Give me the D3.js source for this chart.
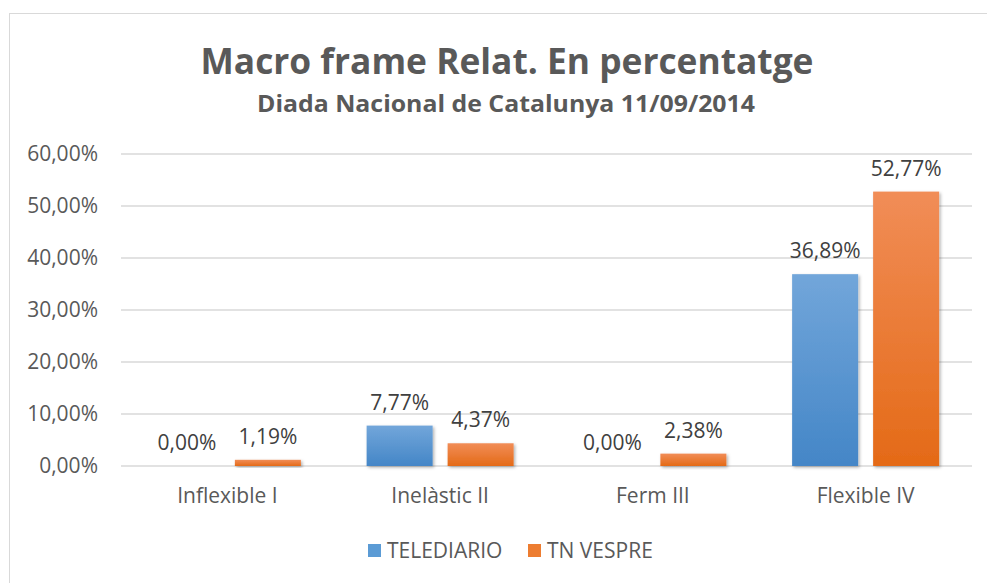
<!DOCTYPE html>
<html>
<head>
<meta charset="utf-8">
<script src="https://cdn.jsdelivr.net/npm/d3@7"></script>
<style>
  body { margin: 0; background: #fff; }
  text { font-family: "Open Sans", sans-serif; }
</style>
</head>
<body>
<div id="chart"></div>
<script>
// chart values
var categories = ["Inflexible I", "Inelàstic II", "Ferm III", "Flexible IV"];
var seriesNames = ["TELEDIARIO", "TN VESPRE"];
var telediario = [0.00, 7.77, 0.00, 36.89];
var tnVespre = [1.19, 4.37, 2.38, 52.77];
var yTicks = [0, 10, 20, 30, 40, 50, 60];

var W = 987, H = 583;
var margin = {left: 121, right: 15, top: 154, bottom: 117};
var font = "'Open Sans', sans-serif";
var fs = 21;

var svg = d3.select("#chart").append("svg")
    .attr("width", W).attr("height", H);

var defs = svg.append("defs");
function grad(id, top, bottom) {
  var g = defs.append("linearGradient").attr("id", id)
      .attr("x1", 0).attr("y1", 0).attr("x2", 0).attr("y2", 1);
  g.append("stop").attr("offset", "0%").attr("stop-color", top);
  g.append("stop").attr("offset", "100%").attr("stop-color", bottom);
}
grad("gBlue", "#72a6da", "#4486c7");
grad("gOrange", "#f18d57", "#e46a17");

var shadow = defs.append("filter").attr("id", "shadow")
    .attr("x", "-20%").attr("y", "-20%").attr("width", "150%").attr("height", "150%");
shadow.append("feDropShadow").attr("dx", 1.5).attr("dy", 1.5)
    .attr("stdDeviation", 1.5).attr("flood-color", "#000").attr("flood-opacity", 0.3);

// outer frame
svg.append("rect").attr("x", 9.5).attr("y", 13.5)
    .attr("width", W).attr("height", H)
    .attr("fill", "#fff").attr("stroke", "#d9d9d9");

svg.append("text").attr("x", 507).attr("y", 74)
    .attr("text-anchor", "middle").attr("font-size", 36).attr("font-weight", "bold")
    .attr("fill", "#595959")
    .attr("textLength", 613).attr("lengthAdjust", "spacingAndGlyphs")
    .text("Macro frame Relat. En percentatge");
svg.append("text").attr("x", 506).attr("y", 112)
    .attr("text-anchor", "middle").attr("font-size", 23).attr("font-weight", "bold")
    .attr("fill", "#595959")
    .attr("textLength", 498).attr("lengthAdjust", "spacingAndGlyphs")
    .text("Diada Nacional de Catalunya 11/09/2014");

var x = d3.scaleBand().domain(categories)
    .range([margin.left, W - margin.right]);
var y = d3.scaleLinear().domain([0, 60])
    .range([H - margin.bottom, margin.top]);
var x1 = d3.scaleBand().domain(seriesNames)
    .range([x.bandwidth() * 0.1545, x.bandwidth() * 0.8455]).paddingInner(0.185);

var fmt = function(v) { return d3.format(".2f")(v).replace(".", ",") + "%"; };

// gridlines
svg.append("g").selectAll("line").data(yTicks).join("line")
    .attr("x1", margin.left).attr("x2", W - margin.right)
    .attr("y1", function(d) { return y(d); }).attr("y2", function(d) { return y(d); })
    .attr("stroke", "#d9d9d9").attr("stroke-width", 1.3);

// y axis labels
var yAxis = d3.axisLeft(y).tickValues(yTicks).tickSize(0).tickPadding(0)
    .tickFormat(fmt);
var ya = svg.append("g").attr("transform", "translate(98,0)").call(yAxis);
ya.select(".domain").remove();
ya.selectAll("text").attr("font-size", fs).attr("fill", "#595959")
    .attr("font-family", font);

// x axis labels
var xAxis = d3.axisBottom(x).tickSize(0).tickPadding(0);
var xa = svg.append("g").attr("transform", "translate(0," + (H - margin.bottom + 22) + ")").call(xAxis);
xa.select(".domain").remove();
xa.selectAll("text").attr("font-size", fs).attr("fill", "#595959")
    .attr("font-family", font);

// bars
var rows = categories.map(function(c, i) {
  return [{cat: c, s: seriesNames[0], v: telediario[i], fill: "url(#gBlue)"},
          {cat: c, s: seriesNames[1], v: tnVespre[i], fill: "url(#gOrange)"}];
});
var groups = svg.append("g").selectAll("g").data(rows).join("g")
    .attr("transform", function(d) { return "translate(" + x(d[0].cat) + ",0)"; });

groups.selectAll("rect").data(function(d) { return d; }).join("rect")
    .attr("x", function(d) { return x1(d.s); })
    .attr("width", x1.bandwidth())
    .attr("y", function(d) { return y(d.v); })
    .attr("height", function(d) { return y(0) - y(d.v); })
    .attr("fill", function(d) { return d.fill; })
    .attr("filter", function(d) { return d.v > 0 ? "url(#shadow)" : null; });

groups.selectAll("text").data(function(d) { return d; }).join("text")
    .attr("x", function(d) { return x1(d.s) + x1.bandwidth() / 2; })
    .attr("y", function(d) { return y(d.v) - 16; })
    .attr("text-anchor", "middle").attr("font-size", fs).attr("fill", "#404040")
    .text(function(d) { return fmt(d.v); });

// legend
var legend = svg.append("g").attr("transform", "translate(368,544)");
var lx = [0, 160];
var lcol = ["#5b9bd5", "#ed7d31"];
seriesNames.forEach(function(s, i) {
  legend.append("rect").attr("x", lx[i]).attr("y", 0).attr("width", 13).attr("height", 13)
      .attr("fill", lcol[i]);
  legend.append("text").attr("x", lx[i] + 19).attr("y", 14)
      .attr("font-size", fs).attr("fill", "#595959").text(s);
});
</script>
</body>
</html>
